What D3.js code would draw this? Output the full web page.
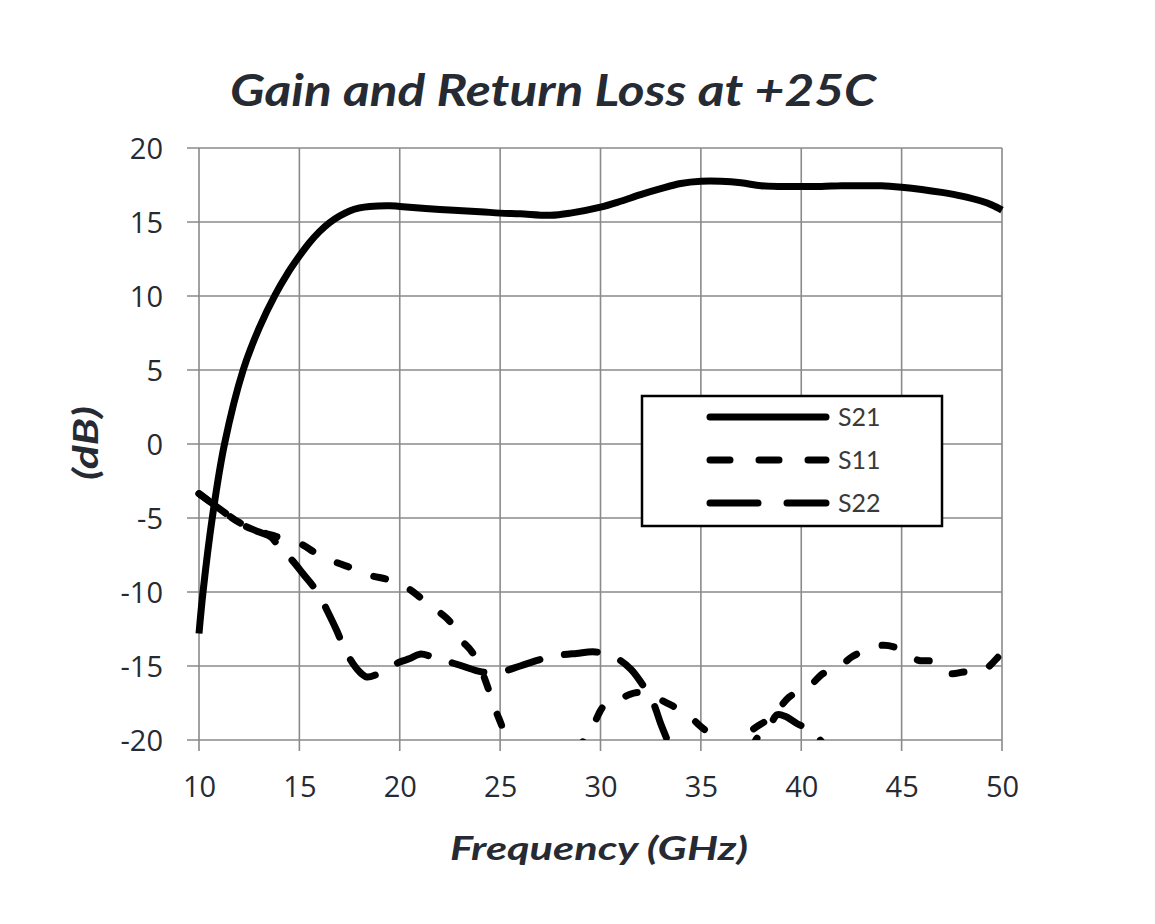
<!DOCTYPE html>
<html>
<head>
<meta charset="utf-8">
<script src="https://cdn.jsdelivr.net/npm/d3@7"></script>
<style>
  html, body { margin: 0; padding: 0; background: #ffffff; }
  svg { display: block; }
</style>
</head>
<body>
<svg id="chart" width="1155" height="924"></svg>
<script>
const title = "Gain and Return Loss at +25C";
const xLabel = "Frequency (GHz)";
const yLabel = "(dB)";
const xTicks = [10, 15, 20, 25, 30, 35, 40, 45, 50];
const yTicks = [20, 15, 10, 5, 0, -5, -10, -15, -20];
const seriesNames = ["S21", "S11", "S22"];

const s21Freq = [10, 10.2, 10.66, 11.27, 12.2, 13.0, 13.8, 14.4, 15.0, 15.5, 16.0, 16.5, 17.0, 17.5, 18.0, 18.5, 19.5, 20, 22, 24, 25, 26, 27.5, 28.5, 30, 31, 32, 33, 34, 35, 36, 37, 38, 39, 40, 41, 42, 43, 44, 45, 46, 47, 48, 49, 49.5, 50];
const s21Val  = [-12.8, -10, -5, 0, 5, 7.85, 10.1, 11.5, 12.7, 13.6, 14.35, 14.95, 15.4, 15.75, 15.95, 16.05, 16.1, 16.05, 15.85, 15.7, 15.6, 15.55, 15.45, 15.6, 16.0, 16.4, 16.85, 17.25, 17.6, 17.75, 17.75, 17.65, 17.45, 17.4, 17.4, 17.4, 17.45, 17.45, 17.45, 17.35, 17.2, 17.0, 16.75, 16.4, 16.15, 15.8];

const s11Freq = [10, 10.9, 11.5, 12.0, 13.0, 13.85, 15.0, 15.86, 16.78, 17.69, 18.52, 19.52, 20.43, 21.1, 21.85, 22.5, 23.0, 23.6, 24.1, 24.4, 24.75, 25.1, 25.5, 27.0, 28.8, 29.25, 29.67, 30.17, 31.0, 31.75, 32.5, 33.6, 34.4, 35.0, 35.65, 36.2, 36.8, 37.4, 38.3, 38.7, 39.4, 40.45, 41.1, 41.8, 42.5, 43.3, 44.1, 45.0, 45.8, 46.6, 47.4, 48.1, 49.05, 49.8, 50];
const s11Val  = [-3.35, -4.26, -4.85, -5.3, -5.9, -6.25, -6.7, -7.4, -7.97, -8.42, -8.87, -9.2, -9.77, -10.45, -11.24, -12.0, -13.15, -14.05, -15.4, -16.5, -17.9, -19.1, -20.6, -22, -21, -19.7, -18.9, -17.7, -17.2, -16.8, -17.0, -17.7, -18.35, -19.1, -19.8, -20.5, -20.6, -19.5, -18.65, -18.2, -17.1, -16.3, -15.5, -15.2, -14.4, -13.9, -13.6, -13.9, -14.6, -14.7, -15.5, -15.4, -15.3, -14.4, -14.05];

const s22Freq = [10, 10.9, 11.5, 12.0, 13.0, 13.6, 14.0, 14.6, 15.2, 15.95, 16.4, 16.86, 17.28, 17.7, 18.0, 18.36, 18.8, 19.2, 20.0, 20.5, 21.0, 21.9, 23.0, 24.1, 25.0, 26.0, 26.9, 27.8, 28.8, 29.75, 30.75, 31.5, 32.08, 32.6, 33.0, 33.3, 33.6, 35.5, 37.4, 37.9, 38.4, 38.8, 39.2, 39.8, 40.6, 41.0, 41.4, 45, 50];
const s22Val  = [-3.35, -4.26, -4.85, -5.35, -5.95, -6.3, -7.0, -7.8, -8.8, -10.1, -11.3, -12.6, -13.94, -14.9, -15.4, -15.74, -15.6, -15.3, -14.73, -14.5, -14.2, -14.5, -14.95, -15.4, -15.4, -15.0, -14.6, -14.3, -14.15, -14.05, -14.44, -15.2, -16.23, -17.4, -18.9, -19.9, -20.8, -22, -20.6, -19.7, -19.1, -18.3, -18.4, -18.9, -19.4, -20.1, -20.8, -22, -22];

const svg = d3.select("#chart");
const L = 199, R = 1002, T = 148, B = 740;
const x = d3.scaleLinear().domain([10, 50]).range([L, R]);
const y = d3.scaleLinear().domain([-20, 20]).range([B, T]);
const textColor = "#262b33";
const gridColor = "#8a8a8a";

svg.append("rect").attr("width", 1155).attr("height", 924).attr("fill", "#fff");

// grid
const grid = svg.append("g");
grid.selectAll("line.v").data(xTicks).join("line")
  .attr("x1", d => x(d)).attr("x2", d => x(d)).attr("y1", T).attr("y2", B + 11)
  .attr("stroke", gridColor).attr("stroke-width", 1.6);
grid.selectAll("line.h").data(yTicks).join("line")
  .attr("x1", L - 12).attr("x2", R).attr("y1", d => y(d)).attr("y2", d => y(d))
  .attr("stroke", gridColor).attr("stroke-width", 1.6);

// axes labels
const fmt = d => String(d);
const yAxis = d3.axisLeft(y).tickValues(yTicks).tickFormat(fmt).tickSize(0).tickPadding(36);
const gy = svg.append("g").attr("transform", `translate(${L},0)`).call(yAxis);
gy.select(".domain").remove();
gy.selectAll("text").attr("font-family", "'Open Sans', 'Noto Sans', sans-serif")
  .attr("font-size", 29).attr("fill", textColor).attr("dy", "0.35em");

const xAxis = d3.axisBottom(x).tickValues(xTicks).tickFormat(fmt).tickSize(0).tickPadding(47);
const gx = svg.append("g").attr("transform", `translate(0,${B})`).call(xAxis);
gx.select(".domain").remove();
gx.selectAll("text").attr("font-family", "'Open Sans', 'Noto Sans', sans-serif")
  .attr("font-size", 29).attr("fill", textColor).attr("dy", "0.35em");

// clip
svg.append("defs").append("clipPath").attr("id", "plotclip")
  .append("rect").attr("x", L - 10).attr("y", T - 10).attr("width", R - L + 20).attr("height", B - T + 10);

const line = d3.line().x(d => x(d[0])).y(d => y(d[1])).curve(d3.curveCatmullRom.alpha(0.5));
const zip = (a, b) => a.map((v, i) => [v, b[i]]);
const plot = svg.append("g").attr("clip-path", "url(#plotclip)");

const styles = {
  S21: { dash: null, legendDash: null },
  S11: { dash: "12,27", legendDash: "20,29" },
  S22: { dash: "33,25", legendDash: "48,29" }
};

plot.append("path").datum(zip(s22Freq, s22Val)).attr("d", line)
  .attr("fill", "none").attr("stroke", "#000").attr("stroke-width", 7)
  .attr("stroke-linecap", "round").attr("stroke-dasharray", styles.S22.dash);
plot.append("path").datum(zip(s11Freq, s11Val)).attr("d", line)
  .attr("fill", "none").attr("stroke", "#000").attr("stroke-width", 7)
  .attr("stroke-linecap", "round").attr("stroke-dasharray", styles.S11.dash);
plot.append("path").datum(zip(s21Freq, s21Val)).attr("d", line)
  .attr("fill", "none").attr("stroke", "#000").attr("stroke-width", 7)
  .attr("stroke-linecap", "butt");

// legend
const lg = svg.append("g");
lg.append("rect").attr("x", 642).attr("y", 396).attr("width", 300).attr("height", 130)
  .attr("fill", "#fff").attr("stroke", "#000").attr("stroke-width", 2.5);
seriesNames.forEach((n, i) => {
  const yy = 417 + i * 43;
  lg.append("line").attr("x1", 710).attr("x2", 826).attr("y1", yy).attr("y2", yy)
    .attr("stroke", "#000").attr("stroke-width", 7).attr("stroke-linecap", "round")
    .attr("stroke-dasharray", styles[n].legendDash);
  lg.append("text").attr("x", 838).attr("y", yy).attr("dy", "0.35em")
    .attr("font-family", "'Lato', 'Open Sans', sans-serif").attr("font-size", 25)
    .attr("fill", "#3a3a3a").text(n);
});

// titles
svg.append("text").attr("x", 553).attr("y", 106).attr("text-anchor", "middle")
  .attr("font-family", "'Lato', 'Open Sans', sans-serif").attr("font-weight", "bold")
  .attr("font-style", "italic").attr("font-size", 43).attr("fill", textColor)
  .attr("textLength", 646).attr("lengthAdjust", "spacingAndGlyphs").text(title);

svg.append("text").attr("x", 599).attr("y", 860).attr("text-anchor", "middle")
  .attr("font-family", "'Lato', 'Open Sans', sans-serif").attr("font-weight", "bold")
  .attr("font-style", "italic").attr("font-size", 33).attr("fill", textColor)
  .attr("textLength", 298).attr("lengthAdjust", "spacingAndGlyphs").text(xLabel);

svg.append("text").attr("transform", "translate(98,443) rotate(-90)").attr("text-anchor", "middle")
  .attr("font-family", "'Lato', 'Open Sans', sans-serif").attr("font-weight", "bold")
  .attr("font-style", "italic").attr("font-size", 35).attr("fill", textColor)
  .attr("textLength", 74).attr("lengthAdjust", "spacingAndGlyphs")
  .text(yLabel);
</script>
</body>
</html>
